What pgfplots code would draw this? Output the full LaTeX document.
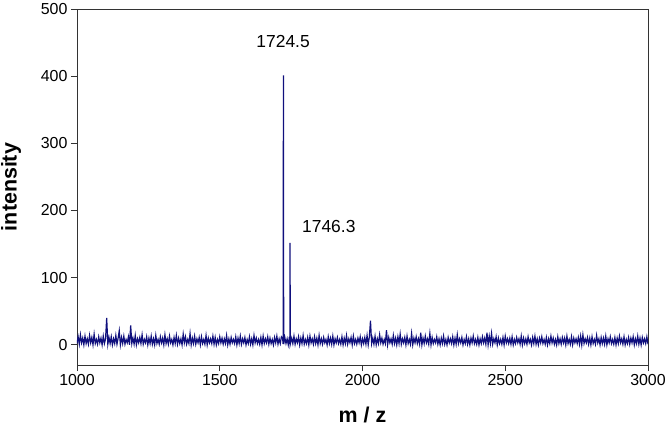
\documentclass[border=0pt]{standalone}
\usepackage{pgfplots}
\pgfplotsset{compat=1.18}
\usepackage{fontspec}
\setmainfont{Liberation Sans}
\definecolor{specblue}{RGB}{15,15,125}
\begin{document}
\begin{tikzpicture}
\begin{axis}[
  name=ax,
  scale only axis,
  width=571bp, height=356bp,
  xmin=1000, xmax=3000, ymin=-30, ymax=500,
  xtick={1000,1500,2000,2500,3000},
  ytick={0,100,200,300,400,500},
  xtick pos=bottom, ytick pos=left,
  tick align=outside,
  major tick length=6bp,
  axis line style={black!80, line width=0.9pt},
  tick style={black!80, line width=0.8pt},
  /pgf/number format/assume math mode=true,
  /pgf/number format/1000 sep={},
  tick label style={font=\fontsize{16}{18}\selectfont},
  xlabel={\textbf{m / z}},
  ylabel={\textbf{intensity}},
  label style={font=\fontsize{21.5}{23}\selectfont},
  xlabel style={at={([yshift=-50bp]axis description cs:0.5,0)}, anchor=center},
  ylabel style={at={([xshift=-66bp]axis description cs:0,0.5)}, anchor=center},
]
\addplot[specblue, line width=1.2pt, no marks, sharp plot] coordinates {
(1000,2)(1004,12)(1008,1)(1012,15)(1016,3)(1020,10)(1024,0)(1028,13)(1032,2)(1036,9)
(1040,1)(1044,14)(1048,3)(1052,11)(1056,0)(1060,16)(1064,2)(1068,8)(1072,1)(1076,12)
(1080,3)(1084,10)(1088,0)(1092,13)(1096,2)(1100,9)(1104,40)(1108,1)(1112,11)(1116,2)
(1120,12)(1124,0)(1128,9)(1132,2)(1136,14)(1140,1)(1144,10)(1148,21)(1152,0)(1156,11)
(1160,2)(1164,13)(1168,1)(1172,8)(1176,3)(1180,12)(1184,0)(1188,29)(1192,2)(1196,10)
(1200,1)(1204,14)(1208,0)(1212,9)(1216,3)(1220,11)(1224,2)(1228,15)(1232,1)(1236,8)
(1240,3)(1244,12)(1248,0)(1252,10)(1256,2)(1260,13)(1264,1)(1268,9)(1272,0)(1276,14)
(1280,2)(1284,8)(1288,1)(1292,12)(1296,3)(1300,10)(1304,0)(1308,15)(1312,2)(1316,9)
(1320,1)(1324,13)(1328,3)(1332,8)(1336,0)(1340,11)(1344,2)(1348,14)(1352,1)(1356,10)
(1360,2)(1364,9)(1368,0)(1372,16)(1376,3)(1380,12)(1384,1)(1388,8)(1392,2)(1396,17)
(1400,0)(1404,10)(1408,2)(1412,13)(1416,1)(1420,9)(1424,3)(1428,11)(1432,0)(1436,12)
(1440,2)(1444,8)(1448,1)(1452,14)(1456,0)(1460,10)(1464,3)(1468,9)(1472,2)(1476,13)
(1480,1)(1484,11)(1488,0)(1492,8)(1496,2)(1500,12)(1504,3)(1508,10)(1512,1)(1516,9)
(1520,2)(1524,14)(1528,0)(1532,9)(1536,1)(1540,11)(1544,3)(1548,8)(1552,2)(1556,12)
(1560,0)(1564,10)(1568,2)(1572,13)(1576,1)(1580,9)(1584,3)(1588,11)(1592,0)(1596,8)
(1600,2)(1604,12)(1608,1)(1612,9)(1616,0)(1620,14)(1624,3)(1628,10)(1632,2)(1636,8)
(1640,1)(1644,11)(1648,0)(1652,13)(1656,2)(1660,9)(1664,3)(1668,12)(1672,1)(1676,10)
(1680,2)(1684,8)(1688,0)(1692,11)(1696,3)(1700,13)(1704,1)(1708,9)(1712,2)(1716,12)
(1720,10)(1722,1)(1723,401)(1724,1)(1728,11)(1732,2)(1736,9)(1740,0)(1744,12)
(1745.5,1)(1746.3,152)(1747,1)(1752,10)(1756,2)
(1760,13)(1764,1)(1768,9)(1772,3)(1776,12)(1780,0)(1784,10)(1788,2)(1792,14)(1796,1)
(1800,8)(1804,2)(1808,11)(1812,0)(1816,13)(1820,3)(1824,9)(1828,1)(1832,12)(1836,2)
(1840,10)(1844,0)(1848,14)(1852,2)(1856,9)(1860,1)(1864,11)(1868,3)(1872,8)(1876,0)
(1880,12)(1884,2)(1888,10)(1892,1)(1896,13)(1900,0)(1904,9)(1908,3)(1912,11)(1916,2)
(1920,8)(1924,1)(1928,12)(1932,0)(1936,10)(1940,2)(1944,14)(1948,1)(1952,9)(1956,3)
(1960,11)(1964,0)(1968,13)(1972,2)(1976,8)(1980,1)(1984,10)(1988,3)(1992,12)(1996,0)
(2000,9)(2004,2)(2008,11)(2012,1)(2016,14)(2020,0)(2024,12)(2028,36)(2032,2)(2036,10)
(2040,1)(2044,13)(2048,0)(2052,9)(2056,2)(2060,15)(2064,3)(2068,10)(2072,1)(2076,8)
(2080,2)(2084,22)(2088,0)(2092,11)(2096,3)(2100,9)(2104,1)(2108,14)(2112,2)(2116,10)
(2120,0)(2124,12)(2128,2)(2132,16)(2136,1)(2140,9)(2144,3)(2148,11)(2152,0)(2156,13)
(2160,2)(2164,8)(2168,1)(2172,17)(2176,0)(2180,10)(2184,3)(2188,12)(2192,2)(2196,9)
(2200,1)(2204,18)(2208,0)(2212,10)(2216,2)(2220,13)(2224,3)(2228,9)(2232,1)(2236,17)
(2240,0)(2244,11)(2248,2)(2252,8)(2256,3)(2260,12)(2264,1)(2268,9)(2272,0)(2276,10)
(2280,2)(2284,13)(2288,1)(2292,8)(2296,0)(2300,11)(2304,3)(2308,9)(2312,2)(2316,12)
(2320,0)(2324,10)(2328,1)(2332,15)(2336,2)(2340,9)(2344,3)(2348,11)(2352,0)(2356,8)
(2360,2)(2364,12)(2368,1)(2372,9)(2376,0)(2380,10)(2384,3)(2388,13)(2392,2)(2396,8)
(2400,1)(2404,11)(2408,0)(2412,9)(2416,2)(2420,12)(2424,3)(2428,10)(2432,1)(2436,18)
(2440,0)(2444,13)(2448,2)(2452,17)(2456,1)(2460,9)(2464,3)(2468,12)(2472,0)(2476,10)
(2480,2)(2484,8)(2488,1)(2492,11)(2496,0)(2500,13)(2504,3)(2508,9)(2512,2)(2516,10)
(2520,1)(2524,12)(2528,0)(2532,8)(2536,2)(2540,11)(2544,3)(2548,9)(2552,1)(2556,13)
(2560,0)(2564,10)(2568,2)(2572,9)(2576,1)(2580,12)(2584,3)(2588,8)(2592,0)(2596,11)
(2600,2)(2604,13)(2608,1)(2612,9)(2616,0)(2620,10)(2624,3)(2628,12)(2632,2)(2636,8)
(2640,1)(2644,11)(2648,0)(2652,9)(2656,2)(2660,13)(2664,3)(2668,10)(2672,1)(2676,8)
(2680,0)(2684,12)(2688,2)(2692,9)(2696,1)(2700,11)(2704,3)(2708,10)(2712,0)(2716,13)
(2720,2)(2724,8)(2728,1)(2732,12)(2736,0)(2740,10)(2744,3)(2748,9)(2752,2)(2756,11)
(2760,1)(2764,13)(2768,0)(2772,15)(2776,2)(2780,9)(2784,3)(2788,11)(2792,1)(2796,10)
(2800,0)(2804,12)(2808,2)(2812,8)(2816,1)(2820,14)(2824,3)(2828,9)(2832,0)(2836,11)
(2840,2)(2844,10)(2848,1)(2852,13)(2856,0)(2860,9)(2864,3)(2868,12)(2872,2)(2876,8)
(2880,1)(2884,11)(2888,0)(2892,10)(2896,2)(2900,13)(2904,3)(2908,9)(2912,1)(2916,12)
(2920,0)(2924,8)(2928,2)(2932,11)(2936,1)(2940,10)(2944,3)(2948,12)(2952,0)(2956,9)
(2960,2)(2964,13)(2968,1)(2972,10)(2976,0)(2980,11)(2984,3)(2988,9)(2992,2)(2996,12)
(3000,1)
};
\node[font=\fontsize{17.5}{19}\selectfont] at (axis cs:1722,451) {1724.5};
\node[font=\fontsize{17.5}{19}\selectfont] at (axis cs:1882,176) {1746.3};
\end{axis}
\pgfresetboundingbox
\path[use as bounding box] ([shift={(-77bp,-61bp)}]ax.south west) rectangle ([shift={(18bp,9bp)}]ax.north east);
\end{tikzpicture}
\end{document}
